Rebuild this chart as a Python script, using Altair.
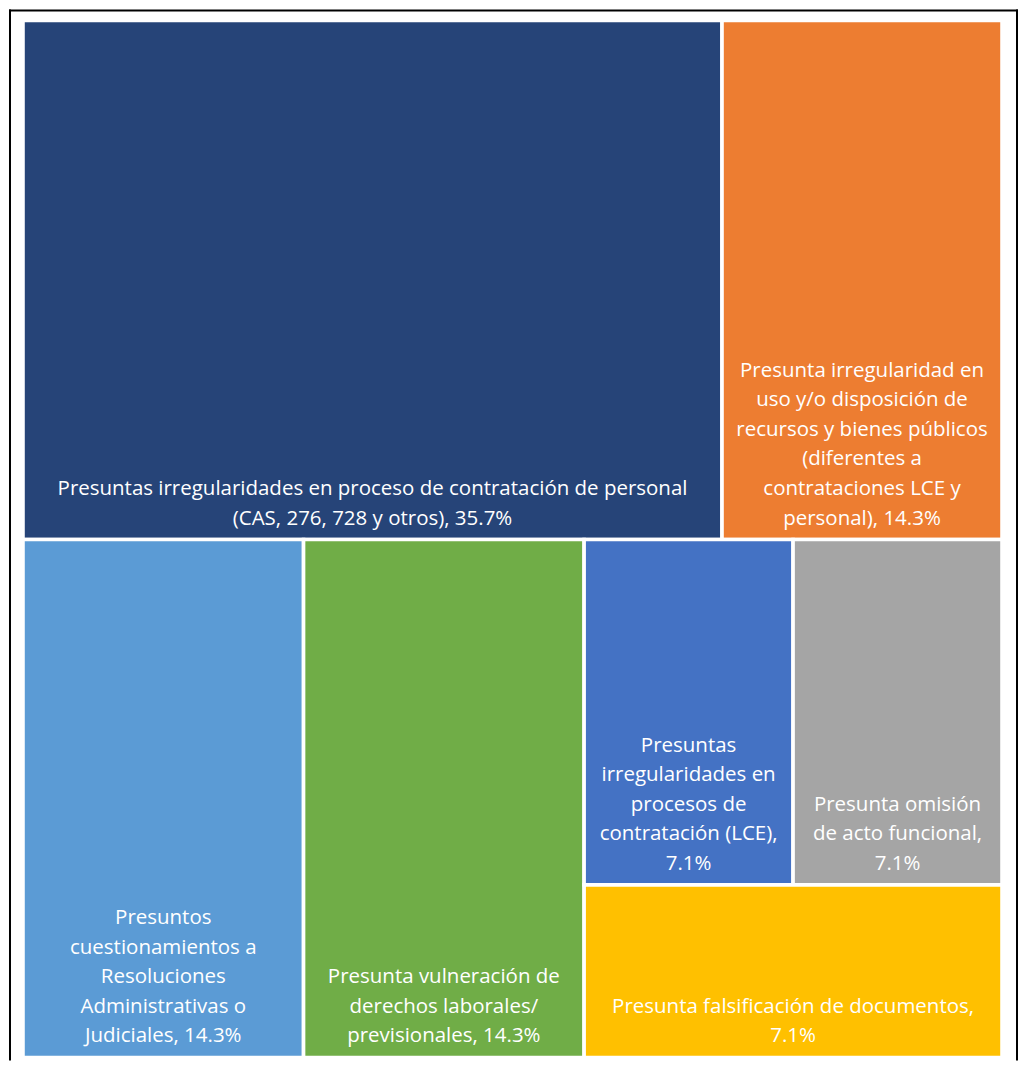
import altair as alt
import pandas as pd

# ---- data ----
categories = [
    "Contratación de personal",
    "Recursos y bienes públicos",
    "Resoluciones administrativas o judiciales",
    "Derechos laborales/previsionales",
    "Contratación LCE",
    "Omisión de acto funcional",
    "Falsificación de documentos",
]
percentages = [35.7, 14.3, 14.3, 14.3, 7.1, 7.1, 7.1]
labels = [
    "Presuntas irregularidades en proceso de contratación de personal\n(CAS, 276, 728 y otros), 35.7%",
    "Presunta irregularidad en\nuso y/o disposición de\nrecursos y bienes públicos\n(diferentes a\ncontrataciones LCE y\npersonal), 14.3%",
    "Presuntos\ncuestionamientos a\nResoluciones\nAdministrativas o\nJudiciales, 14.3%",
    "Presunta vulneración de\nderechos laborales/\nprevisionales, 14.3%",
    "Presuntas\nirregularidades en\nprocesos de\ncontratación (LCE),\n7.1%",
    "Presunta omisión\nde acto funcional,\n7.1%",
    "Presunta falsificación de documentos,\n7.1%",
]
colors = ["#264478", "#ED7D31", "#5B9BD5", "#70AD47", "#4472C4", "#A5A5A5", "#FFC000"]

# ---- squarified treemap layout (computed from the values) ----
W, H = 980.0, 1038.0
LINE_H = 29.6  # label line height (data units are 1:1 with pixels)


def worst(row, side):
    s = sum(row)
    return max(max(side * side * r / (s * s), (s * s) / (side * side * r)) for r in row)


def squarify(vals, x, y, w, h):
    total = sum(vals)
    areas = [v / total * w * h for v in vals]
    rects = []
    while areas:
        side = min(w, h)
        row = [areas[0]]
        i = 1
        while i < len(areas) and worst(row + [areas[i]], side) <= worst(row, side):
            row.append(areas[i])
            i += 1
        s = sum(row)
        if w >= h:
            cw = s / h
            yy = y
            for a in row:
                rh = a / cw
                rects.append((x, yy, x + cw, yy + rh))
                yy += rh
            x += cw
            w -= cw
        else:
            rh = s / w
            xx = x
            for a in row:
                rw = a / rh
                rects.append((xx, y, xx + rw, y + rh))
                xx += rw
            y += rh
            h -= rh
        areas = areas[i:]
    return rects


rects = squarify(percentages, 0.0, 0.0, W, H)
df = pd.DataFrame({
    "category": categories,
    "pct": percentages,
    "label": labels,
    "x0": [r[0] for r in rects],
    "y0": [r[1] for r in rects],
    "x1": [r[2] for r in rects],
    "y1": [r[3] for r in rects],
})
df["xc"] = (df["x0"] + df["x1"]) / 2
df["nlines"] = df["label"].str.count("\n") + 1
# labels sit at the bottom of each cell: first line placed so the last ends at the bottom
df["ytext"] = df["y1"] - (df["nlines"] - 1) * LINE_H

PW, PH = 1010, 1052
xs = alt.Scale(domain=[0, W], range=[14, 994], nice=False, zero=False)
ys = alt.Scale(domain=[0, H], range=[11, 1049], nice=False, zero=False)

base = alt.Chart(df)

cells = base.mark_rect(stroke="white", strokeWidth=3.6).encode(
    x=alt.X("x0:Q", scale=xs, axis=None),
    x2="x1:Q",
    y=alt.Y("y0:Q", scale=ys, axis=None),
    y2="y1:Q",
    color=alt.Color("category:N", scale=alt.Scale(domain=categories, range=colors), legend=None),
)

text = base.mark_text(
    color="white", font="Open Sans", fontSize=20.5, align="center", baseline="alphabetic",
    lineBreak="\n", lineHeight=LINE_H, dy=-15,
).encode(
    x=alt.X("xc:Q", scale=xs, axis=None),
    y=alt.Y("ytext:Q", scale=ys, axis=None),
    text="label:N",
)

frame_data = alt.Data(values=[{"f": 1}])
frame_left = alt.Chart(frame_data).mark_rule(color="black", strokeWidth=2).encode(
    x=alt.value(1), y=alt.value(0), y2=alt.value(PH))
frame_right = alt.Chart(frame_data).mark_rule(color="black", strokeWidth=2).encode(
    x=alt.value(PW - 1), y=alt.value(0), y2=alt.value(PH))
frame_top = alt.Chart(frame_data).mark_rule(color="black", strokeWidth=2).encode(
    x=alt.value(0), x2=alt.value(PW), y=alt.value(1))

chart = alt.layer(cells, text, frame_left, frame_right, frame_top).properties(
    width=PW, height=PH, padding=0, background="white"
).configure_view(stroke=None)

chart.save("out.html", embed_options={"renderer": "svg", "actions": False})
